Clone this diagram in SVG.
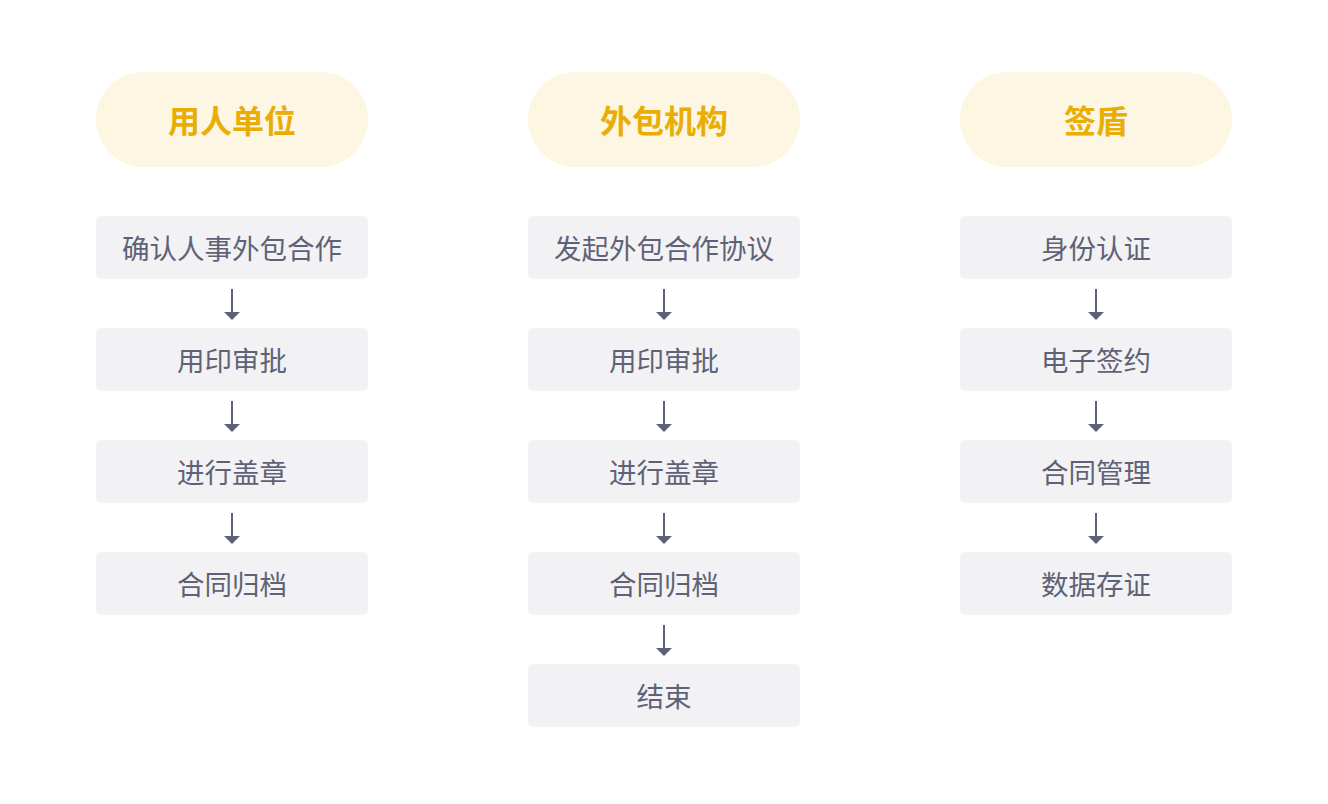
<svg xmlns="http://www.w3.org/2000/svg" width="1328" height="804" viewBox="0 0 1328 804">
<style>
.pill{fill:#FCF6E3}
.ht{font-family:"Noto Sans CJK SC","Noto Sans",sans-serif;font-size:32px;font-weight:bold;fill:#E8AE06;text-anchor:middle;dominant-baseline:central}
.box{fill:#F2F2F4}
.bt{font-family:"Noto Sans CJK SC","Noto Sans",sans-serif;font-size:27.5px;fill:#5F6276;text-anchor:middle;dominant-baseline:central}
.ln{stroke:#5F6276;stroke-width:2;fill:none}
.ah{fill:#5F6276}
</style>
<defs>
<g id="arr"><line class="ln" x1="0" y1="289" x2="0" y2="313"/><polygon class="ah" points="-8,312 8,312 0,320"/></g>
</defs>
<rect width="1328" height="804" fill="#fff"/>
<g id="h1"><rect class="pill" x="96" y="72" width="272" height="95" rx="47.5"/><text class="ht" x="232" y="119">用人单位</text></g>
<g id="h2"><rect class="pill" x="528" y="72" width="272" height="95" rx="47.5"/><text class="ht" x="664" y="119">外包机构</text></g>
<g id="h3"><rect class="pill" x="960" y="72" width="272" height="95" rx="47.5"/><text class="ht" x="1096" y="119">签盾</text></g>

<g id="a1"><rect class="box" x="96" y="216" width="272" height="63" rx="6"/><text class="bt" x="232" y="246.5">确认人事外包合作</text></g>
<g id="a2"><rect class="box" x="96" y="328" width="272" height="63" rx="6"/><text class="bt" x="232" y="358.5">用印审批</text></g>
<g id="a3"><rect class="box" x="96" y="440" width="272" height="63" rx="6"/><text class="bt" x="232" y="470.5">进行盖章</text></g>
<g id="a4"><rect class="box" x="96" y="552" width="272" height="63" rx="6"/><text class="bt" x="232" y="582.5">合同归档</text></g>

<g id="b1"><rect class="box" x="528" y="216" width="272" height="63" rx="6"/><text class="bt" x="664" y="246.5">发起外包合作协议</text></g>
<g id="b2"><rect class="box" x="528" y="328" width="272" height="63" rx="6"/><text class="bt" x="664" y="358.5">用印审批</text></g>
<g id="b3"><rect class="box" x="528" y="440" width="272" height="63" rx="6"/><text class="bt" x="664" y="470.5">进行盖章</text></g>
<g id="b4"><rect class="box" x="528" y="552" width="272" height="63" rx="6"/><text class="bt" x="664" y="582.5">合同归档</text></g>
<g id="b5"><rect class="box" x="528" y="664" width="272" height="63" rx="6"/><text class="bt" x="664" y="694.5">结束</text></g>

<g id="c1"><rect class="box" x="960" y="216" width="272" height="63" rx="6"/><text class="bt" x="1096" y="246.5">身份认证</text></g>
<g id="c2"><rect class="box" x="960" y="328" width="272" height="63" rx="6"/><text class="bt" x="1096" y="358.5">电子签约</text></g>
<g id="c3"><rect class="box" x="960" y="440" width="272" height="63" rx="6"/><text class="bt" x="1096" y="470.5">合同管理</text></g>
<g id="c4"><rect class="box" x="960" y="552" width="272" height="63" rx="6"/><text class="bt" x="1096" y="582.5">数据存证</text></g>

<g id="connectors">
<use href="#arr" x="232" y="0"/><use href="#arr" x="232" y="112"/><use href="#arr" x="232" y="224"/>
<use href="#arr" x="664" y="0"/><use href="#arr" x="664" y="112"/><use href="#arr" x="664" y="224"/><use href="#arr" x="664" y="336"/>
<use href="#arr" x="1096" y="0"/><use href="#arr" x="1096" y="112"/><use href="#arr" x="1096" y="224"/>
</g>
</svg>
